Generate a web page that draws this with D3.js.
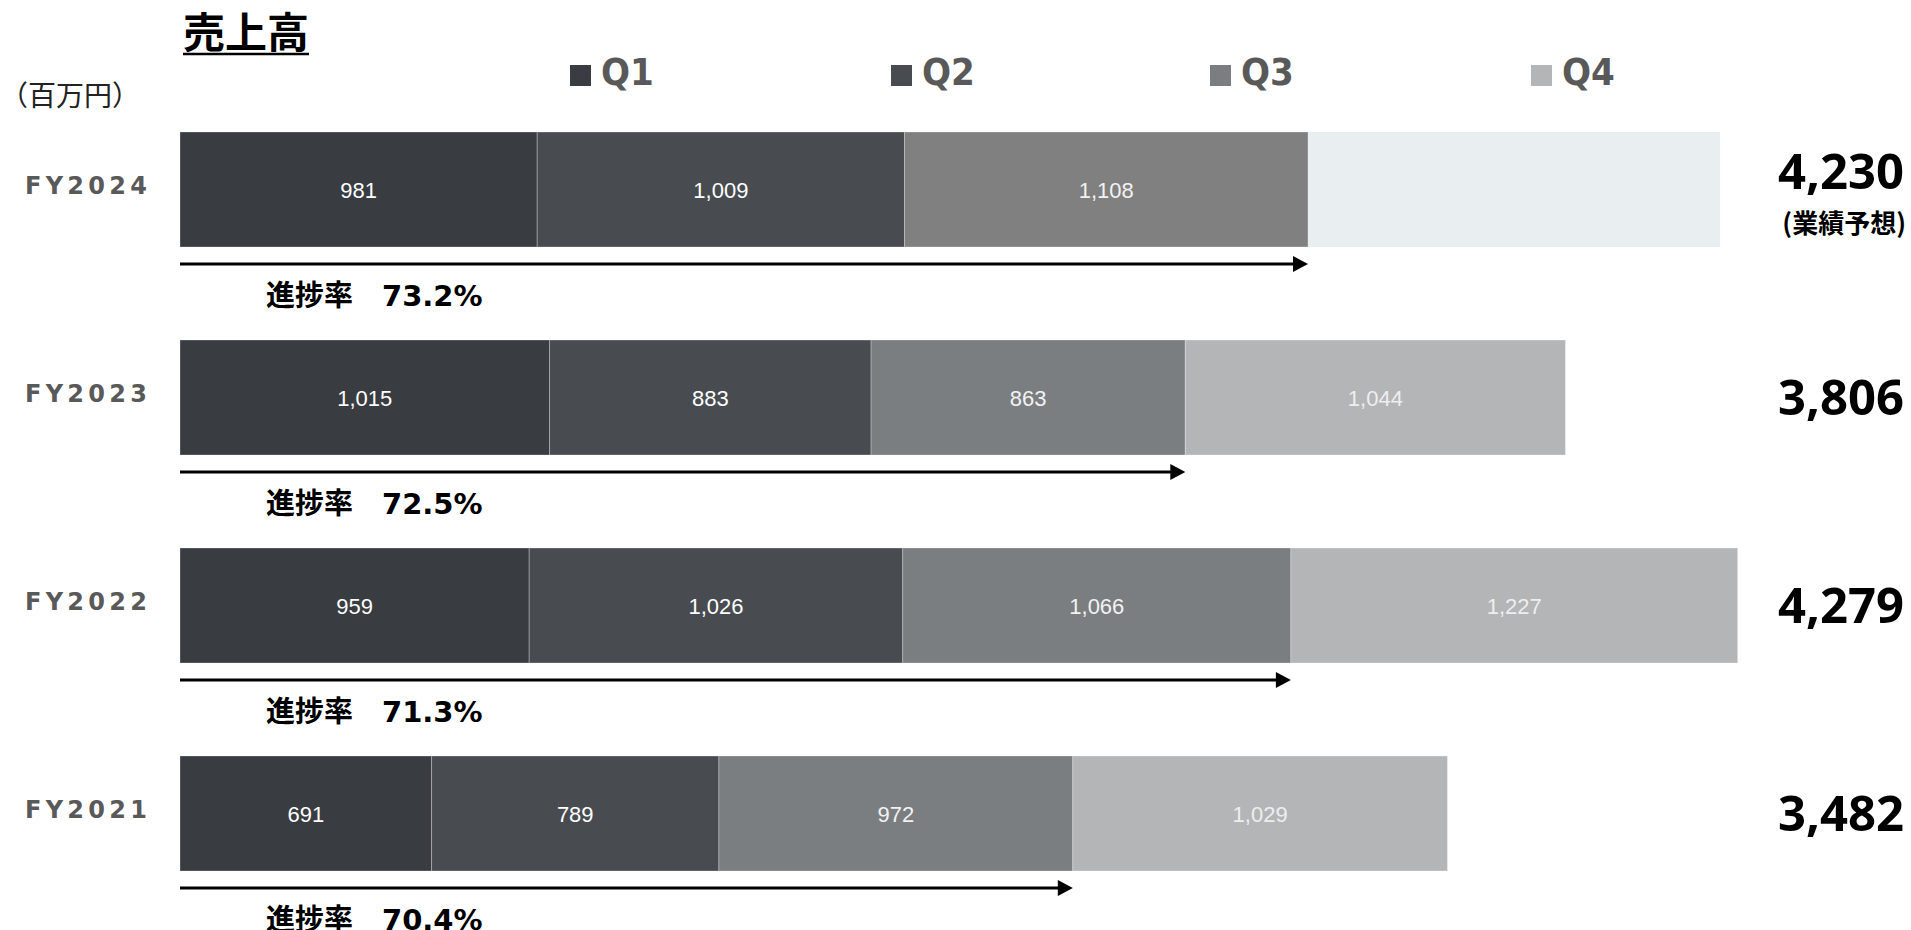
<!DOCTYPE html>
<html><head><meta charset="utf-8">
<script src="https://cdn.jsdelivr.net/npm/d3@7"></script>
<style>html,body{margin:0;padding:0;background:#fff;overflow:hidden;}</style>
</head><body>
<svg id="chart" width="1911" height="930"></svg>
<script>
const years = ["FY2024","FY2023","FY2022","FY2021"];
const quarters = ["Q1","Q2","Q3","Q4"];
const q1 = [981,1015,959,691];
const q2 = [1009,883,1026,789];
const q3 = [1108,863,1066,972];
const q4 = [null,1044,1227,1029];
const totals = [4230,3806,4279,3482];
const progress = ["73.2%","72.5%","71.3%","70.4%"];
const forecastNote = "(業績予想)";
const title = "売上高";
const unit = "（百万円）";

const qColors = ["#393c40","#484c50","#7b7e81","#b4b5b7"];
const q3Color2024 = "#808080";
const forecastColor = "#e9eef1";
const labelColors = ["#ffffff","#ffffff","#f2f2f2","#eeeeee"];

const svg = d3.select("#chart");
const x = d3.scaleLinear().domain([0, 4279]).range([180, 1738]);
const y = d3.scaleBand().domain(years).range([132, 871]).paddingInner(93/208).paddingOuter(0).align(0);
const bh = y.bandwidth();

// title
svg.append("text").attr("x",183).attr("y",48)
  .attr("font-family","'Noto Sans CJK JP'").attr("font-weight","bold").attr("font-size",42)
  .attr("fill","#000").text(title);
svg.append("line").attr("x1",183).attr("x2",309).attr("y1",54).attr("y2",54)
  .attr("stroke","#000").attr("stroke-width",2.5);
svg.append("text").attr("x",0).attr("y",106)
  .attr("font-family","'Noto Sans CJK JP'").attr("font-size",28).attr("fill","#222").text(unit);

// legend
const legX = [570,891,1210,1531];
quarters.forEach((q,i)=>{
  svg.append("rect").attr("x",legX[i]).attr("y",65).attr("width",21).attr("height",21).attr("fill",qColors[i]);
  svg.append("text").attr("x",legX[i]+31).attr("y",85)
    .attr("font-family","'Liberation Sans Narrow','DejaVu Sans Condensed',sans-serif")
    .attr("font-weight","bold").attr("font-size",38).attr("fill","#595959").text(q);
});

// rows
years.forEach((yr,i)=>{
  const vals = [q1[i],q2[i],q3[i],q4[i]];
  const top = y(yr);
  let cum = 0;
  const g = svg.append("g");
  vals.forEach((v,k)=>{
    if(v==null) return;
    const x0 = x(cum), x1 = x(cum+v);
    const col = (k===2 && i===0) ? q3Color2024 : qColors[k];
    g.append("rect").attr("x",x0).attr("y",top).attr("width",x1-x0).attr("height",bh)
      .attr("fill",col).attr("stroke","rgba(255,255,255,0.28)").attr("stroke-width",1);
    g.append("text").attr("x",(x0+x1)/2).attr("y",top+bh/2+8)
      .attr("text-anchor","middle").attr("font-family","'Liberation Sans',Arial,sans-serif")
      .attr("font-size",22).attr("fill",labelColors[k]).text(d3.format(",")(v));
    cum += v;
  });
  const cumQ3 = q1[i]+q2[i]+q3[i];
  if(q4[i]==null){
    g.append("rect").attr("x",x(cumQ3)).attr("y",top).attr("width",x(totals[i])-x(cumQ3)).attr("height",bh)
      .attr("fill",forecastColor);
  }
  // category label
  svg.append("text").attr("x",25).attr("y",top+bh/2+4)
    .attr("font-family","'DejaVu Sans',sans-serif").attr("font-weight","bold").attr("font-size",24)
    .attr("letter-spacing",4.3).attr("fill","#595959").text(yr);
  // arrow
  const ay = top+bh+17;
  const tip = x(cumQ3);
  svg.append("line").attr("x1",x(0)).attr("x2",tip-10).attr("y1",ay).attr("y2",ay)
    .attr("stroke","#000").attr("stroke-width",3);
  svg.append("path").attr("d",`M${tip-15},${ay-8}L${tip},${ay}L${tip-15},${ay+8}Z`).attr("fill","#000");
  // progress text
  svg.append("text").attr("x",266).attr("y",top+bh+59)
    .attr("font-family","'DejaVu Sans','Noto Sans CJK JP',sans-serif").attr("font-weight","bold")
    .attr("font-size",29).attr("fill","#000").text("進捗率\u3000"+progress[i]);
  // totals
  const ty = q4[i]==null ? top+bh/2-1 : top+bh/2+17;
  svg.append("text").attr("x",1904).attr("y",ty).attr("text-anchor","end")
    .attr("font-family","'Noto Sans',sans-serif").attr("font-weight","bold").attr("font-size",49)
    .attr("fill","#000").text(d3.format(",")(totals[i]));
  if(q4[i]==null){
    svg.append("text").attr("x",1906).attr("y",top+bh/2+43).attr("text-anchor","end")
      .attr("font-family","'Noto Sans CJK JP',sans-serif").attr("font-weight","bold").attr("font-size",26)
      .attr("fill","#000").text(forecastNote);
  }
});
</script>
</body></html>
